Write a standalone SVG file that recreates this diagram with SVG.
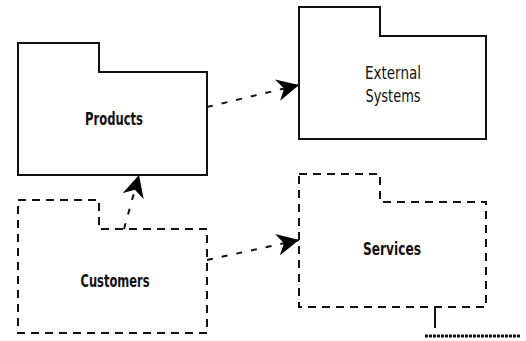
<svg xmlns="http://www.w3.org/2000/svg" width="526" height="341" viewBox="0 0 526 341">
<style>
.pkg{fill:#fff;stroke:#111;stroke-width:2;stroke-linejoin:miter}
.dash{stroke-dasharray:8 6}
.lbl{font-family:"DejaVu Sans Condensed","Liberation Sans Narrow","Liberation Sans",sans-serif;font-size:17px;fill:#111;text-anchor:middle}
.b{font-weight:bold}
.dep{fill:none;stroke:#111;stroke-width:2;stroke-dasharray:6 9}
</style>
<defs>
<marker id="ah" viewBox="0 0 10 10" refX="10" refY="5" markerWidth="22" markerHeight="22" markerUnits="userSpaceOnUse" orient="auto">
<path d="M0,0 L10,5 L0,10 L3,5 Z" fill="#000"/>
</marker>
</defs>
<rect width="526" height="341" fill="#fff"/>
<g id="products">
<path class="pkg" d="M18,43 H99 V72 H207 V175 H18 Z"/>
<text class="lbl b" x="114" y="125" textLength="58" lengthAdjust="spacingAndGlyphs">Products</text>
</g>
<g id="external-systems">
<path class="pkg" d="M299,7 H380 V36 H486 V139 H299 Z"/>
<text class="lbl" x="393" y="79" textLength="56" lengthAdjust="spacingAndGlyphs">External</text>
<text class="lbl" x="393" y="102" textLength="55" lengthAdjust="spacingAndGlyphs">Systems</text>
</g>
<g id="customers">
<path class="pkg dash" d="M18,200 H99 V229 H207 V333 H18 Z"/>
<text class="lbl b" x="115" y="287" textLength="69" lengthAdjust="spacingAndGlyphs">Customers</text>
</g>
<g id="services">
<path class="pkg dash" d="M299,174 H380 V202 H486 V307 H299 Z"/>
<text class="lbl b" x="392" y="255" textLength="58" lengthAdjust="spacingAndGlyphs">Services</text>
</g>
<g id="connectors">
<path class="dep" d="M207,107 L299,85" marker-end="url(#ah)"/>
<path class="dep" d="M124,229 L139,175" marker-end="url(#ah)"/>
<path class="dep" d="M207,260 L299,240" marker-end="url(#ah)"/>
<path d="M435,307 V328" stroke="#111" stroke-width="2" fill="none"/>
<path d="M425,336 H520" stroke="#111" stroke-width="3" stroke-dasharray="3 1" fill="none"/>
</g>
</svg>
